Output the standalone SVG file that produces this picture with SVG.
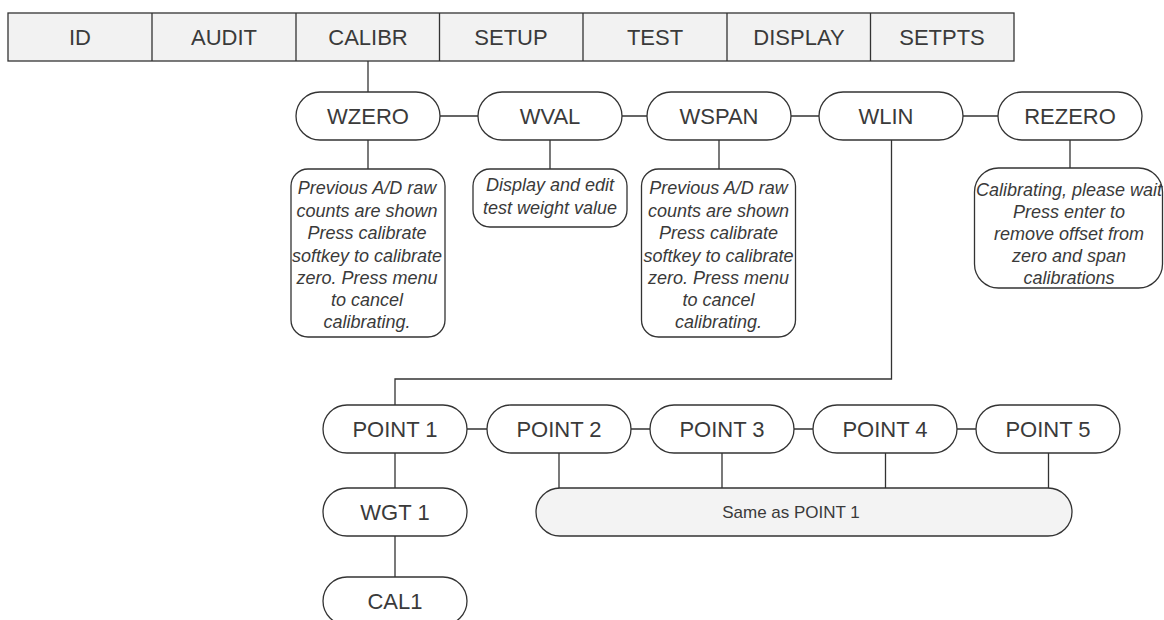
<svg xmlns="http://www.w3.org/2000/svg" width="1164" height="620" viewBox="0 0 1164 620">
<style>
.bar{fill:#f2f2f2;stroke:#333;stroke-width:1.3}
.pill{fill:#fff;stroke:#333;stroke-width:1.3}
.box{fill:#fff;stroke:#333;stroke-width:1.3}
.gray{fill:#f3f3f3;stroke:#333;stroke-width:1.3}
.lbl{font-family:"Liberation Sans",Arial,sans-serif;font-size:22px;fill:#3a3a3a;text-anchor:middle}
.it{font-family:"Liberation Sans",Arial,sans-serif;font-size:18px;font-style:italic;fill:#3a3a3a;text-anchor:middle}
.sm{font-family:"Liberation Sans",Arial,sans-serif;font-size:17px;fill:#3a3a3a;text-anchor:middle}
.con{fill:none;stroke:#333;stroke-width:1.3}
</style>
<rect width="1164" height="620" fill="#fff"/>
<g id="connectors">
<path class="con" d="M368 61V92"/>
<path class="con" d="M440 116H478M622 116H647M791 116H819M963 116H998"/>
<path class="con" d="M368 140V169M550 140V169M719 140V169M1070 140V168"/>
<path class="con" d="M891.5 140V379H395V405"/>
<path class="con" d="M467 429H487M631 429H650M794 429H813M957 429H976"/>
<path class="con" d="M395 453V488M395 536V577"/>
<path class="con" d="M559 453V488M722 453V488M885.5 453V488M1048.5 453V488"/>
</g>
<g id="menubar">
<rect class="bar" x="8" y="13" width="1006" height="48"/>
<path class="con" d="M152 13V61M296 13V61M439.5 13V61M583 13V61M727 13V61M870.5 13V61"/>
<text class="lbl" x="80" y="45">ID</text>
<text class="lbl" x="224" y="45">AUDIT</text>
<text class="lbl" x="368" y="45">CALIBR</text>
<text class="lbl" x="511" y="45">SETUP</text>
<text class="lbl" x="655" y="45">TEST</text>
<text class="lbl" x="799" y="45">DISPLAY</text>
<text class="lbl" x="942" y="45">SETPTS</text>
</g>
<g id="wzero"><rect class="pill" x="296" y="92" width="144" height="48" rx="24"/><text class="lbl" x="368" y="124">WZERO</text></g>
<g id="wval"><rect class="pill" x="478" y="92" width="144" height="48" rx="24"/><text class="lbl" x="550" y="124">WVAL</text></g>
<g id="wspan"><rect class="pill" x="647" y="92" width="144" height="48" rx="24"/><text class="lbl" x="719" y="124">WSPAN</text></g>
<g id="wlin"><rect class="pill" x="819" y="92" width="144" height="48" rx="24"/><text class="lbl" x="886" y="124">WLIN</text></g>
<g id="rezero"><rect class="pill" x="998" y="92" width="144" height="48" rx="24"/><text class="lbl" x="1070" y="124">REZERO</text></g>
<g id="wzero-desc">
<rect class="box" x="291" y="169" width="154" height="168" rx="17"/>
<text class="it" x="367"><tspan x="367" y="194">Previous A/D raw</tspan><tspan x="367" y="216.5">counts are shown</tspan><tspan x="367" y="239">Press calibrate</tspan><tspan x="367" y="261.5">softkey to calibrate</tspan><tspan x="367" y="284">zero. Press menu</tspan><tspan x="367" y="306">to cancel</tspan><tspan x="367" y="328">calibrating.</tspan></text>
</g>
<g id="wval-desc">
<rect class="box" x="473" y="169" width="154" height="58" rx="17"/>
<text class="it" x="550"><tspan x="550" y="191">Display and edit</tspan><tspan x="550" y="214">test weight value</tspan></text>
</g>
<g id="wspan-desc">
<rect class="box" x="641.5" y="169" width="154" height="168" rx="17"/>
<text class="it" x="718.5"><tspan x="718.5" y="194">Previous A/D raw</tspan><tspan x="718.5" y="216.5">counts are shown</tspan><tspan x="718.5" y="239">Press calibrate</tspan><tspan x="718.5" y="261.5">softkey to calibrate</tspan><tspan x="718.5" y="284">zero. Press menu</tspan><tspan x="718.5" y="306">to cancel</tspan><tspan x="718.5" y="328">calibrating.</tspan></text>
</g>
<g id="rezero-desc">
<rect class="box" x="974.5" y="168" width="188" height="120" rx="24"/>
<text class="it" x="1069"><tspan x="1069" y="196">Calibrating, please wait</tspan><tspan x="1069" y="218">Press enter to</tspan><tspan x="1069" y="240">remove offset from</tspan><tspan x="1069" y="262">zero and span</tspan><tspan x="1069" y="284">calibrations</tspan></text>
</g>
<g id="point1"><rect class="pill" x="323" y="405" width="144" height="48" rx="24"/><text class="lbl" x="395" y="437">POINT 1</text></g>
<g id="point2"><rect class="pill" x="487" y="405" width="144" height="48" rx="24"/><text class="lbl" x="559" y="437">POINT 2</text></g>
<g id="point3"><rect class="pill" x="650" y="405" width="144" height="48" rx="24"/><text class="lbl" x="722" y="437">POINT 3</text></g>
<g id="point4"><rect class="pill" x="813" y="405" width="144" height="48" rx="24"/><text class="lbl" x="885" y="437">POINT 4</text></g>
<g id="point5"><rect class="pill" x="976" y="405" width="144" height="48" rx="24"/><text class="lbl" x="1048" y="437">POINT 5</text></g>
<g id="wgt1"><rect class="pill" x="323" y="488" width="144" height="48" rx="24"/><text class="lbl" x="395" y="520">WGT 1</text></g>
<g id="cal1"><rect class="pill" x="323" y="577" width="144" height="48" rx="24"/><text class="lbl" x="395" y="609">CAL1</text></g>
<g id="same"><rect class="gray" x="536" y="488" width="536" height="48" rx="24"/><text class="sm" x="791" y="518">Same as POINT 1</text></g>
</svg>
